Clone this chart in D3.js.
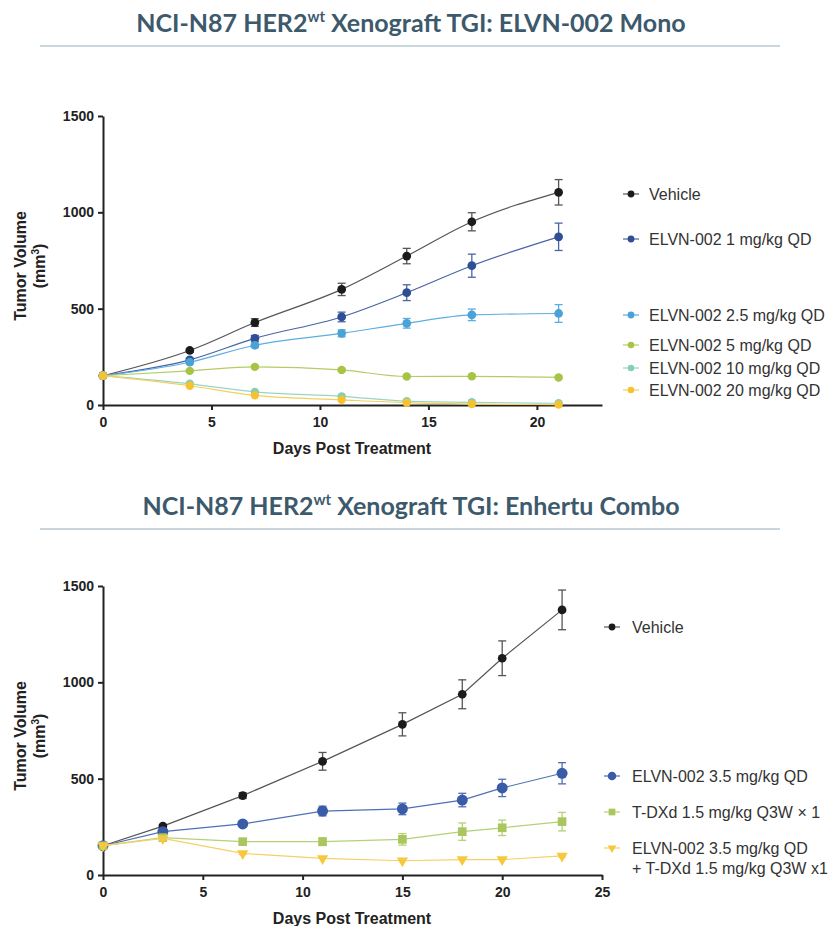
<!DOCTYPE html>
<html><head><meta charset="utf-8">
<script src="https://cdn.jsdelivr.net/npm/d3@7"></script>
<style>body{margin:0;background:#fff;} svg{display:block;}</style>
</head><body>
<svg id="chart" width="830" height="926"></svg>
<script>
// ---------- DATA ----------
const monoDays = [0, 4, 7, 11, 14, 17, 21];
const monoNames = ["Vehicle","ELVN-002 1 mg/kg QD","ELVN-002 2.5 mg/kg QD","ELVN-002 5 mg/kg QD","ELVN-002 10 mg/kg QD","ELVN-002 20 mg/kg QD"];
const monoVehicle = [152, 283, 428, 600, 773, 951, 1104];
const monoVehicleErr = [5, 10, 20, 32, 40, 47, 66];
const mono1 = [152, 234, 346, 457, 583, 723, 873];
const mono1Err = [5, 8, 15, 25, 41, 60, 71];
const mono25 = [152, 222, 310, 372, 424, 468, 475];
const mono25Err = [5, 7, 12, 18, 25, 30, 46];
const mono5 = [152, 177, 198, 182, 148, 149, 143];
const mono5Err = [5, 6, 8, 8, 6, 6, 6];
const mono10 = [152, 110, 68, 45, 20, 14, 9];
const mono10Err = [5, 5, 4, 3, 2, 2, 2];
const mono20 = [152, 100, 50, 27, 12, 5, 2];
const mono20Err = [5, 5, 3, 2, 1, 1, 1];
const monoX = [0, 23];
const monoXTicks = [0, 5, 10, 15, 20];

const comboDays = [0, 3, 7, 11, 15, 18, 20, 23];
const comboNames = ["Vehicle","ELVN-002 3.5 mg/kg QD","T-DXd 1.5 mg/kg Q3W × 1",["ELVN-002 3.5 mg/kg QD","+ T-DXd 1.5 mg/kg Q3W x1"]];
const comboVehicle = [152, 254, 412, 590, 782, 938, 1125, 1376];
const comboVehicleErr = [5, 8, 15, 46, 60, 75, 90, 103];
const comboElvn = [152, 225, 265, 332, 343, 389, 452, 528];
const comboElvnErr = [5, 8, 12, 25, 30, 35, 45, 55];
const comboTdxd = [152, 194, 173, 173, 185, 225, 245, 277];
const comboTdxdErr = [5, 8, 10, 20, 30, 45, 40, 48];
const comboBoth = [152, 190, 112, 86, 74, 80, 80, 99];
const comboBothErr = [5, 8, 6, 5, 5, 5, 5, 6];
const comboX = [0, 25];
const comboXTicks = [0, 5, 10, 15, 20, 25];

const yTicks = [0, 500, 1000, 1500];

// ---------- STYLE ----------
const svg = d3.select("#chart");
const titleColor = "#3d5a6c";
const axisColor = "#222";
const FONT = "'Liberation Sans', Arial, sans-serif";

function title(y, text1, sup, text2) {
  const t = svg.append("text").attr("x", 411).attr("y", y).attr("text-anchor", "middle")
    .attr("font-family", "Lato, 'Open Sans', sans-serif").attr("font-weight", 700)
    .attr("font-size", 25).attr("fill", titleColor);
  t.append("tspan").text(text1);
  t.append("tspan").attr("dy", -10).attr("font-size", 15).text(sup);
  t.append("tspan").attr("dy", 10).text(text2);
}

function drawChart(cfg) {
  const x = d3.scaleLinear().domain(cfg.xDomain).range([103, 602]);
  const y = d3.scaleLinear().domain([0, 1500]).range([cfg.y0, cfg.y0 - 289]);
  const g = svg.append("g");

  // axes
  const xa = g.append("g").attr("transform", `translate(0,${cfg.y0})`)
    .call(d3.axisBottom(x).tickValues(cfg.xTicks).tickFormat(d3.format("d")).tickSize(5).tickSizeOuter(0));
  const ya = g.append("g").attr("transform", `translate(103,0)`)
    .call(d3.axisLeft(y).tickValues(yTicks).tickFormat(d3.format("d")).tickSize(5).tickSizeOuter(0));
  [xa, ya].forEach(a => {
    a.select(".domain").attr("stroke", axisColor).attr("stroke-width", 2);
    a.selectAll(".tick line").attr("stroke", axisColor).attr("stroke-width", 2);
    a.selectAll(".tick text").attr("fill", "#222").attr("font-family", FONT)
      .attr("font-weight", 700).attr("font-size", 14);
  });
  xa.selectAll(".tick text").attr("y", 12);
  ya.selectAll(".tick text").attr("x", -9);

  // axis titles
  const lab = g.append("text").attr("transform", `translate(26,${cfg.y0 - 139}) rotate(-90)`)
    .attr("text-anchor", "middle").attr("font-family", FONT)
    .attr("font-weight", 700).attr("font-size", 16).attr("fill", "#222");
  lab.append("tspan").attr("x", 0).attr("dy", 0).text("Tumor Volume");
  lab.append("tspan").attr("x", 0).attr("dy", 19).text("(mm");
  lab.append("tspan").attr("dy", -6).attr("font-size", 10).text("3");
  lab.append("tspan").attr("dy", 6).text(")");
  g.append("text").attr("x", 352).attr("y", cfg.y0 + 49).attr("text-anchor", "middle")
    .attr("font-family", FONT).attr("font-weight", 700)
    .attr("font-size", 16).attr("fill", "#222").text("Days Post Treatment");

  // series
  cfg.series.forEach((s, si) => {
    const pts = cfg.days.map((d, i) => ({ d, v: s.values[i], e: s.err[i] }));
    const line = d3.line().x(p => x(p.d)).y(p => y(p.v)).curve(cfg.curve);
    g.append("path").datum(pts).attr("d", line).attr("fill", "none")
      .attr("stroke", s.line).attr("stroke-width", 1.2);
    // error bars
    const eb = g.append("g").attr("stroke", s.line).attr("stroke-width", 1.3);
    pts.forEach(p => {
      if (p.e < 6) return;
      eb.append("line").attr("x1", x(p.d)).attr("x2", x(p.d)).attr("y1", y(p.v + p.e)).attr("y2", y(p.v - p.e));
      [p.v + p.e, p.v - p.e].forEach(v => eb.append("line").attr("x1", x(p.d) - 4).attr("x2", x(p.d) + 4)
        .attr("y1", y(v)).attr("y2", y(v)));
    });
    const sym = d3.symbol().type(s.shape).size(s.size);
    g.append("g").selectAll("path").data(pts).join("path")
      .attr("transform", p => `translate(${x(p.d)},${y(p.v)})` + (s.flip ? " rotate(180)" : ""))
      .attr("d", sym).attr("fill", s.color);

    // legend
    const ly = cfg.legendY[si];
    const lg = g.append("g").attr("transform", `translate(${cfg.legendX},${ly})`);
    lg.append("line").attr("x1", -8).attr("x2", 8).attr("stroke", s.line).attr("stroke-width", 1.2);
    lg.append("path").attr("d", d3.symbol().type(s.shape).size(s.size * 0.6)())
      .attr("transform", s.flip ? "rotate(180)" : null).attr("fill", s.color);
    const names = Array.isArray(s.name) ? s.name : [s.name];
    const tx = lg.append("text").attr("x", cfg.legendTextDx).attr("y", 5.5)
      .attr("font-family", FONT).attr("font-size", 16).attr("fill", "#333");
    names.forEach((n, k) => tx.append("tspan").attr("x", cfg.legendTextDx).attr("dy", k ? 20 : 0).text(n));
  });
}

title(32, "NCI-N87 HER2", "wt", " Xenograft TGI: ELVN-002 Mono");
svg.append("line").attr("x1", 40).attr("x2", 780).attr("y1", 46).attr("y2", 46)
  .attr("stroke", "#c9d6dd").attr("stroke-width", 2);
title(515, "NCI-N87 HER2", "wt", " Xenograft TGI: Enhertu Combo");
svg.append("line").attr("x1", 40).attr("x2", 780).attr("y1", 529).attr("y2", 529)
  .attr("stroke", "#c9d6dd").attr("stroke-width", 2);

drawChart({
  xDomain: monoX, xTicks: monoXTicks, y0: 405, days: monoDays, curve: d3.curveMonotoneX,
  legendX: 631, legendTextDx: 18, legendY: [194, 239, 315, 345, 368, 390],
  series: [
    { name: monoNames[0], values: monoVehicle, err: monoVehicleErr, color: "#1b1b1b", line: "#555", shape: d3.symbolCircle, size: 60 },
    { name: monoNames[1], values: mono1, err: mono1Err, color: "#2e4f96", line: "#4a64a6", shape: d3.symbolCircle, size: 60 },
    { name: monoNames[2], values: mono25, err: mono25Err, color: "#4aa2d6", line: "#5aaee0", shape: d3.symbolCircle, size: 60 },
    { name: monoNames[3], values: mono5, err: mono5Err, color: "#a6c446", line: "#b3cc66", shape: d3.symbolCircle, size: 55 },
    { name: monoNames[4], values: mono10, err: mono10Err, color: "#88cdb9", line: "#9ad5c4", shape: d3.symbolCircle, size: 55 },
    { name: monoNames[5], values: mono20, err: mono20Err, color: "#f5c332", line: "#f5cf5a", shape: d3.symbolCircle, size: 55 }
  ]
});

drawChart({
  xDomain: comboX, xTicks: comboXTicks, y0: 875, days: comboDays, curve: d3.curveLinear,
  legendX: 612, legendTextDx: 20, legendY: [627, 776, 812, 848],
  series: [
    { name: comboNames[0], values: comboVehicle, err: comboVehicleErr, color: "#1b1b1b", line: "#555", shape: d3.symbolCircle, size: 60 },
    { name: comboNames[1], values: comboElvn, err: comboElvnErr, color: "#3a5ca8", line: "#4f6fb5", shape: d3.symbolCircle, size: 95 },
    { name: comboNames[2], values: comboTdxd, err: comboTdxdErr, color: "#a9c75e", line: "#b6d077", shape: d3.symbolSquare, size: 75 },
    { name: comboNames[3], values: comboBoth, err: comboBothErr, color: "#f5c83e", line: "#f5d066", shape: d3.symbolTriangle, size: 55, flip: true }
  ]
});
</script>
</body></html>
